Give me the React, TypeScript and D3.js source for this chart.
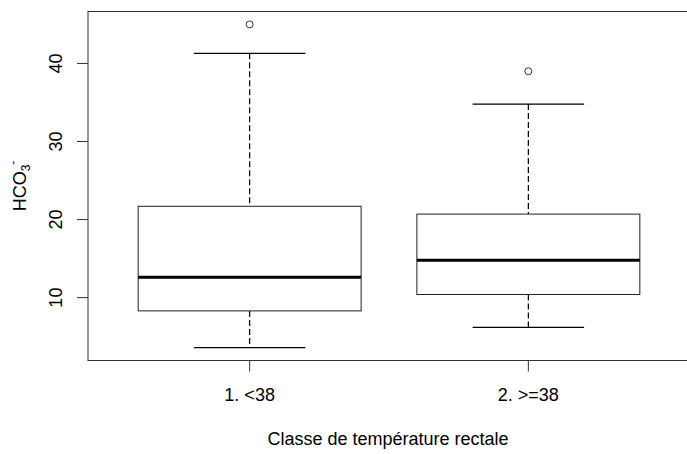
import React from "react";
import * as d3 from "d3";

const categories = ["1. <38", "2. >=38"];
const lowerWhisker = [3.6, 6.2];
const q1Values = [8.3, 10.4];
const medianValues = [12.6, 14.8];
const q3Values = [21.7, 20.7];
const upperWhisker = [41.3, 34.8];
const outlierValues = [[45.0], [39.0]];
const yTicks = [10, 20, 30, 40];
const xTitle = "Classe de température rectale";

const W = 687;
const H = 454;
const left = 88;
const right = 690;
const top = 11.5;
const bottom = 360.5;
const font = "'Liberation Sans', Arial, sans-serif";
const fs = 18;

export default function App() {
  const allVals = [...lowerWhisker, ...upperWhisker, ...outlierValues.flat()];
  const lo = d3.min(allVals) as number;
  const hi = d3.max(allVals) as number;
  const pad = (hi - lo) * 0.04;
  const y = d3.scaleLinear().domain([lo - pad, hi + pad]).range([bottom, top]);
  const xpad = 2 * 0.04;
  const x = d3
    .scaleLinear()
    .domain([0.5 - xpad, categories.length + 0.5 + xpad])
    .range([left, right]);
  const bw = 0.8;
  const cw = 0.4;

  return (
    <svg
      width={W}
      height={H}
      style={{ position: "absolute", left: 0, top: 0, background: "#fff" }}
      fontFamily={font}
    >
      {categories.map((c, i) => {
        const cx = x(i + 1);
        const bl = x(i + 1 - bw / 2);
        const br = x(i + 1 + bw / 2);
        const cl = x(i + 1 - cw / 2);
        const cr = x(i + 1 + cw / 2);
        return (
          <g key={c}>
            <line x1={cx} x2={cx} y1={y(upperWhisker[i])} y2={y(q3Values[i])} stroke="#000" strokeWidth={1.2} strokeDasharray="6,3" />
            <line x1={cx} x2={cx} y1={y(q1Values[i])} y2={y(lowerWhisker[i])} stroke="#000" strokeWidth={1.2} strokeDasharray="6,3" />
            <line x1={cl} x2={cr} y1={y(upperWhisker[i])} y2={y(upperWhisker[i])} stroke="#000" strokeWidth={1.2} />
            <line x1={cl} x2={cr} y1={y(lowerWhisker[i])} y2={y(lowerWhisker[i])} stroke="#000" strokeWidth={1.2} />
            <rect
              x={bl}
              y={y(q3Values[i])}
              width={br - bl}
              height={y(q1Values[i]) - y(q3Values[i])}
              fill="#fff"
              stroke="#222"
            />
            <line x1={bl} x2={br} y1={y(medianValues[i])} y2={y(medianValues[i])} stroke="#000" strokeWidth={3} />
            {outlierValues[i].map((v, j) => (
              <circle key={j} cx={cx} cy={y(v)} r={3.5} fill="none" stroke="#333" />
            ))}
            <line x1={cx} x2={cx} y1={bottom} y2={bottom + 11} stroke="#333" />
            <text x={cx} y={401} textAnchor="middle" fontSize={fs} fill="#000">
              {c}
            </text>
          </g>
        );
      })}
      {yTicks.map((t) => (
        <g key={t}>
          <line x1={left - 11} x2={left} y1={y(t)} y2={y(t)} stroke="#333" />
          <text
            transform={`translate(${61.5},${y(t)}) rotate(-90)`}
            textAnchor="middle"
            fontSize={fs}
            fill="#000"
          >
            {t}
          </text>
        </g>
      ))}
      <rect x={left} y={top} width={right - left} height={bottom - top} fill="none" stroke="#333" />
      <text x={388} y={445} textAnchor="middle" fontSize={fs} fill="#000">
        {xTitle}
      </text>
      <text transform={`translate(${25.5},${(top + bottom) / 2}) rotate(-90)`} textAnchor="middle" fontSize={fs} fill="#000">
        HCO
        <tspan fontSize={12} dy={4}>3</tspan>
        <tspan fontSize={12} dy={-13}>-</tspan>
      </text>
    </svg>
  );
}
